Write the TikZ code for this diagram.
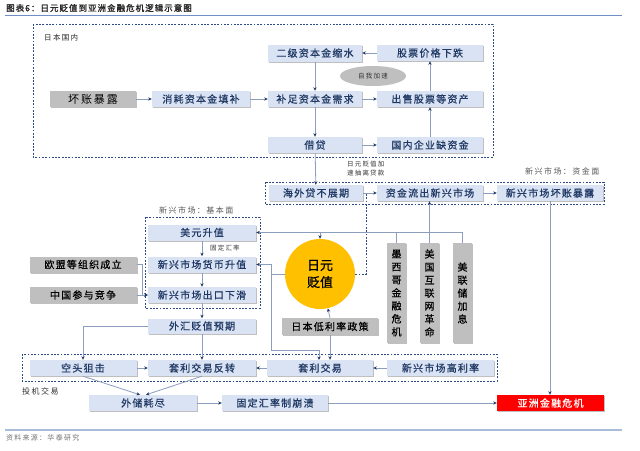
\documentclass[tikz,border=0pt]{standalone}
\usepackage{fontspec}
\newfontfamily\cjk[LetterSpace=12,FakeBold=0.6]{Noto Sans CJK SC}
\newfontfamily\cjkn[FakeBold=0.6]{Noto Sans CJK SC}
\newfontfamily\cjks[LetterSpace=18]{Noto Sans CJK SC}
\newfontfamily\cjkt[LetterSpace=12,FakeBold=1.5]{Noto Sans CJK SC}
\usetikzlibrary{shadows,arrows.meta,calc,shapes.geometric}
\definecolor{nodeblue}{HTML}{DAE3F3}
\definecolor{navy}{HTML}{1F3864}
\definecolor{nodegray}{HTML}{BFBFBF}
\definecolor{linec}{HTML}{8C9DBD}
\definecolor{tipc}{HTML}{1F3864}
\definecolor{boxc}{HTML}{2E4A86}
\definecolor{yenc}{HTML}{FFC000}
\definecolor{redc}{HTML}{FF0000}
\definecolor{topline}{HTML}{6F8FC6}
\definecolor{botline}{HTML}{A9BCD9}
\definecolor{labc}{HTML}{595959}
\tikzset{
  bx/.style={fill=nodeblue, text=navy, font=\cjk\fontsize{10}{12}\selectfont,
    minimum height=16pt, inner sep=0pt,
    drop shadow={shadow xshift=1.4pt,shadow yshift=-1.4pt,fill=black!45,opacity=.55}},
  gbx/.style={bx, fill=nodegray, text=black},
  vbx/.style={gbx, minimum width=19pt, minimum height=100pt, align=center,
    font=\cjkn\fontsize{10}{13}\selectfont},
  conn/.style={draw=linec, line width=0.8pt},
  arr/.style={conn, -{Stealth[length=3.6pt,width=3.2pt,color=tipc]}},
  dbox/.style={draw=boxc, line width=0.9pt, dash pattern=on 1.8pt off 1.5pt},
  lab/.style={anchor=west, inner sep=0pt, text=labc, font=\cjks\fontsize{8}{9}\selectfont},
  slab/.style={inner sep=0pt, text=black!80, font=\cjks\fontsize{6.5}{9}\selectfont},
}
\begin{document}
\begin{tikzpicture}[x=1pt,y=-1pt]
\fill[white] (0,0) rectangle (640,450);
\useasboundingbox (0,0) rectangle (640,450);

% title and rules
\node[anchor=west, inner sep=0pt, text=black!85, font=\cjkt\fontsize{8.5}{10}\selectfont] (title) at (6,8) {图表6：日元贬值到亚洲金融危机逻辑示意图};
\draw[draw=topline, line width=1.2pt] (5,15.5) -- (622,15.5);
\draw[draw=botline, line width=1.2pt] (5,430) -- (622,430);
\node[anchor=west, inner sep=0pt, text=black!55, font=\cjks\fontsize{7}{8}\selectfont] (src) at (6,437.5) {资料来源：华泰研究};

% dashed group boxes
\draw[dbox] (33,24) rectangle (493,157);
\draw[dbox] (265,182) rectangle (604,204);
\draw[dbox] (145,217) rectangle (260,308);
\draw[dbox] (22,354) rectangle (497,381);

% group labels
\node[lab, font=\cjks\fontsize{7.5}{9}\selectfont, text=black!85] (ldom) at (44,38) {日本国内};
\node[lab] (lcap) at (525,171) {新兴市场：资金面};
\node[lab] (lfun) at (159,210) {新兴市场：基本面};
\node[lab, text=black!80] (lspe) at (22,391) {投机交易};

% domestic
\node[gbx, minimum width=86pt, font=\cjks\fontsize{11}{12}\selectfont] (n1) at (93,99) {坏账暴露};
\node[bx, minimum width=98pt] (n2) at (201,99) {消耗资本金填补};
\node[bx, minimum width=94pt] (n3) at (315,99) {补足资本金需求};
\node[bx, minimum width=94pt, minimum height=17pt] (n4) at (315,53) {二级资本金缩水};
\node[bx, minimum width=106pt] (n5) at (430,53) {股票价格下跌};
\node[bx, minimum width=106pt] (n6) at (430,99) {出售股票等资产};
\node[bx, minimum width=94pt] (n7) at (315,145) {借贷};
\node[bx, minimum width=106pt] (n8) at (430,145) {国内企业缺资金};
\node[ellipse, fill=nodegray, minimum width=66pt, minimum height=20pt, inner sep=0pt, font=\cjks\fontsize{6.5}{8}\selectfont, text=black!80] (acc) at (373,76) {自我加速};

% capital side
\node[bx, minimum width=94pt] (c1) at (316,193) {海外贷不展期};
\node[bx, minimum width=106pt] (c2) at (430,193) {资金流出新兴市场};
\node[bx, minimum width=106pt] (c3) at (550,193) {新兴市场坏账暴露};
\node[slab, anchor=north west, align=left] (lpull) at (347,161) {日元贬值加\\速抽离贷款};

% fundamentals
\node[bx, minimum width=108pt] (f1) at (202,232.5) {美元升值};
\node[bx, minimum width=108pt] (f2) at (202,264.5) {新兴市场货币升值};
\node[bx, minimum width=108pt] (f3) at (202,295) {新兴市场出口下滑};
\node[slab, anchor=west] (lfix) at (210,248) {固定汇率};
\node[gbx, minimum width=107pt] (g1) at (83,264.5) {欧盟等组织成立};
\node[gbx, minimum width=107pt] (g2) at (83,295) {中国参与竞争};

% yen and shocks
\node[circle, fill=yenc, minimum size=70pt, inner sep=0pt, align=center, text=black, font=\cjkn\fontsize{13}{17}\selectfont] (yen) at (320,274) {日元\\贬值};
\node[vbx] (v1) at (396.5,293) {墨\\西\\哥\\金\\融\\危\\机};
\node[vbx] (v2) at (429.5,293) {美\\国\\互\\联\\网\\革\\命};
\node[vbx] (v3) at (462.5,293) {美\\联\\储\\加\\息};
\node[gbx, minimum width=96pt, minimum height=17pt] (jp) at (330,326.5) {日本低利率政策};

\node[bx, minimum width=108pt, minimum height=15pt] (fx) at (202,326) {外汇贬值预期};

% speculation
\node[bx, minimum width=107pt] (s1) at (83,368) {空头狙击};
\node[bx, minimum width=108pt] (s2) at (202,368) {套利交易反转};
\node[bx, minimum width=106pt] (s3) at (320,368) {套利交易};
\node[bx, minimum width=107pt] (s4) at (440.5,368) {新兴市场高利率};

% bottom
\node[bx, minimum width=108pt] (b1) at (143,403) {外储耗尽};
\node[bx, minimum width=106pt] (b2) at (275,403) {固定汇率制崩溃};
\node[bx, minimum width=107pt, fill=redc, text=white] (b3) at (550.5,403) {亚洲金融危机};

% domestic connectors
\draw[arr] (n1) -- (n2);
\draw[arr] (n2) -- (n3);
\draw[arr] (n4) -- (n3);
\draw[arr] (n3) -- (n7);
\draw[arr] (n3) -- (n6);
\draw[arr] (n6) -- (n5);
\draw[arr] (n5) -- (n4);
\draw[arr] (n7) -- (n8);
\draw[arr] (n8) -- (n6);
\draw[arr] (n7) -- (c1);

% capital connectors
\draw[arr] (c1) -- (c2);
\draw[arr] (c2) -- (c3);
\draw[arr] (c3.south) -- (c3.south |- b3.north);
\coordinate (dj) at (366,193);
\draw[dbox] (yen.east) -| (dj);

% shocks
\coordinate (hub) at (v3.north |- f1.east);
\draw[arr] (v3.north) -- (hub) -- (f1.east);
\draw[conn] (v1.north) -- (v1.north |- f1.east);
\draw[conn] (v2.north) -- (v2.north |- f1.east);
\draw[arr] (yen.north |- f1.east) -- (yen.north);
\draw[arr] (v2.north) -- (v2.north |- c2.south);

% yen outputs
\coordinate (yl) at (271,274);
\draw[conn] (yen.west) -- (yl);
\draw[arr] (yl) |- (f2.east);
\draw[arr] (yl) |- (319,350) -- (319,360);
\draw[arr] (jp.north) -- (yen);
\draw[arr] (jp.south) -- (jp.south |- s3.north);

% fundamentals
\draw[arr] (f1) -- (f2);
\draw[arr] (f2) -- (f3);
\draw[arr] (f3) -- (fx);
\draw[arr] (g1.east) -- ++(6,0) |- (f3.west);
\draw[arr] (g2) -- (f3);
\draw[arr] (fx) -- (s2);
\draw[arr] (fx.west) -| (s1.north);

% speculation
\draw[arr] (s1) -- (s2);
\draw[arr] (s3) -- (s2);
\draw[arr] (s4) -- (s3);
\draw[arr] (s1.south) -- ($(b1.north)+(-3,0)$);
\draw[arr] (s2.south) -- ($(b1.north)+(3,0)$);
\draw[arr] (b1) -- (b2);
\draw[arr] (b2) -- (b3);
\end{tikzpicture}
\end{document}
